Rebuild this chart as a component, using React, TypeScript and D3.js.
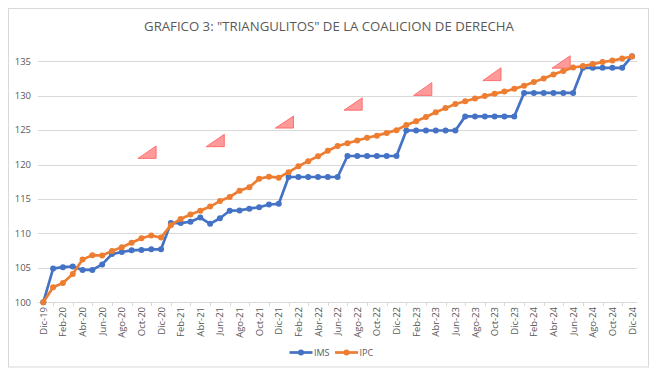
import React from "react";
import * as d3 from "d3";

const MONTHS = ["Ene", "Feb", "Mar", "Abr", "May", "Jun", "Jul", "Ago", "Sep", "Oct", "Nov", "Dic"];
const CATEGORIES: string[] = ["Dic-19"];
[20, 21, 22, 23, 24].forEach((yy) => MONTHS.forEach((m) => CATEGORIES.push(`${m}-${yy}`)));

const IMS = [
  100, 104.9, 105.1, 105.2, 104.7, 104.7, 105.5, 107.0, 107.3, 107.55, 107.6, 107.7, 107.7,
  111.5, 111.5, 111.7, 112.3, 111.4, 112.2, 113.3, 113.35, 113.6, 113.8, 114.2, 114.3,
  118.2, 118.2, 118.2, 118.2, 118.2, 118.2,
  121.25, 121.25, 121.25, 121.25, 121.25, 121.25,
  124.95, 124.95, 124.95, 124.95, 124.95, 124.95,
  127.0, 127.0, 127.0, 127.0, 127.0, 127.0,
  130.4, 130.4, 130.4, 130.4, 130.4, 130.4,
  134.05, 134.05, 134.05, 134.05, 134.05,
  135.75,
];

const IPC = [
  100, 102.2, 102.8, 104.1, 106.2, 106.85, 106.8, 107.45, 108.0, 108.65, 109.3, 109.7, 109.4,
  111.2, 112.1, 112.75, 113.3, 113.9, 114.7, 115.3, 116.2, 116.7, 117.95, 118.25, 118.1,
  118.9, 119.75, 120.5, 121.2, 122.0, 122.7, 123.1, 123.5, 123.9, 124.2, 124.6, 125.0,
  125.75, 126.3, 126.9, 127.6, 128.2, 128.8, 129.2, 129.6, 129.95, 130.3, 130.6, 131.0,
  131.45, 132.0, 132.5, 133.1, 133.6, 134.1, 134.3, 134.6, 134.9, 135.1, 135.4, 135.7,
];

const Y_TICKS = [100, 105, 110, 115, 120, 125, 130, 135];

// "triangulitos": left index, right index, base value, top value
const TRI_LEFT = [9.65, 16.6, 23.65, 30.65, 37.75, 44.8, 51.85];
const TRI_RIGHT = [11.5, 18.45, 25.5, 32.5, 39.6, 46.65, 53.7];
const TRI_BASE = [120.9, 122.6, 125.3, 127.9, 130.05, 132.2, 134.0];
const TRI_TOP = [122.7, 124.4, 127.05, 129.7, 131.9, 134.05, 135.8];

const SERIES = [
  { name: "IMS", values: IMS, color: "#4472C4" },
  { name: "IPC", values: IPC, color: "#ED7D31" },
];

const W = 657;
const H = 376;
const FONT = "'Open Sans', 'Liberation Sans', sans-serif";
const TXT = "#595959";

export default function App() {
  const x = d3.scalePoint<string>().domain(CATEGORIES).range([43.3, 632]);
  const xi = d3.scaleLinear().domain([0, CATEGORIES.length - 1]).range([43.3, 632]);
  const y = d3.scaleLinear().domain([100, 135]).range([302.3, 61.3]);
  const line = d3
    .line<number>()
    .x((_, i) => x(CATEGORIES[i]) as number)
    .y((d) => y(d));

  const gridX0 = 38;
  const gridX1 = 637;

  return (
    <svg
      width={W}
      height={H}
      style={{ position: "absolute", left: 0, top: 0, background: "#fff" }}
      fontFamily={FONT}
    >
      <rect x={8.5} y={8.5} width={640} height={358.5} fill="#fff" stroke="#d9d9d9" strokeWidth={1} />
      <text x={329} y={31} textAnchor="middle" fontSize={13.2} fill={TXT} fontFamily="'Open Sans', sans-serif">
        GRAFICO 3: "TRIANGULITOS" DE LA COALICION DE DERECHA
      </text>

      {Y_TICKS.map((t) => (
        <g key={t}>
          <line x1={gridX0} x2={gridX1} y1={Math.round(y(t)) + 0.5} y2={Math.round(y(t)) + 0.5} stroke="#d9d9d9" strokeWidth={1} />
          <text x={31} y={y(t)} dy="0.35em" textAnchor="end" fontSize={9.5} fill={TXT}>
            {t}
          </text>
        </g>
      ))}

      {CATEGORIES.map((c, i) =>
        i % 2 === 1 ? (
          <line key={"t" + c} x1={Math.round(xi(i)) + 0.5} x2={Math.round(xi(i)) + 0.5} y1={302.5} y2={306} stroke="#d9d9d9" />
        ) : null
      )}
      {CATEGORIES.map((c, i) =>
        i % 2 === 0 ? (
          <text
            key={c}
            transform={`translate(${(x(c) as number) + 3.5},${307}) rotate(-90)`}
            textAnchor="end"
            fontSize={9.5}
            fill={TXT}
          >
            {c}
          </text>
        ) : null
      )}

      {TRI_LEFT.map((l, k) => {
        const x0 = xi(l);
        const x1 = xi(TRI_RIGHT[k]);
        const yb = y(TRI_BASE[k]);
        const yt = y(TRI_TOP[k]);
        return (
          <path
            key={"tri" + k}
            d={`M${x0},${yb}L${x1},${yt}L${x1},${yb}Z`}
            fill="#ff9a9a"
            stroke="#ff5b5b"
            strokeWidth={0.8}
          />
        );
      })}

      {SERIES.map((s) => (
        <g key={s.name}>
          <path d={line(s.values) || ""} fill="none" stroke={s.color} strokeWidth={2.7} strokeLinejoin="round" />
          {s.values.map((v, i) => (
            <circle key={i} cx={x(CATEGORIES[i]) as number} cy={y(v)} r={3} fill={s.color} />
          ))}
        </g>
      ))}

      {SERIES.map((s, k) => {
        const lx = 289.5 + k * 45.5;
        return (
          <g key={"lg" + s.name}>
            <line x1={lx} x2={lx + 23} y1={352.5} y2={352.5} stroke={s.color} strokeWidth={2.7} />
            <circle cx={lx + 11.5} cy={352.5} r={3} fill={s.color} />
            <text x={lx + 24.5} y={352.5} dy="0.35em" fontSize={9} fill={TXT}>
              {s.name}
            </text>
          </g>
        );
      })}
    </svg>
  );
}
